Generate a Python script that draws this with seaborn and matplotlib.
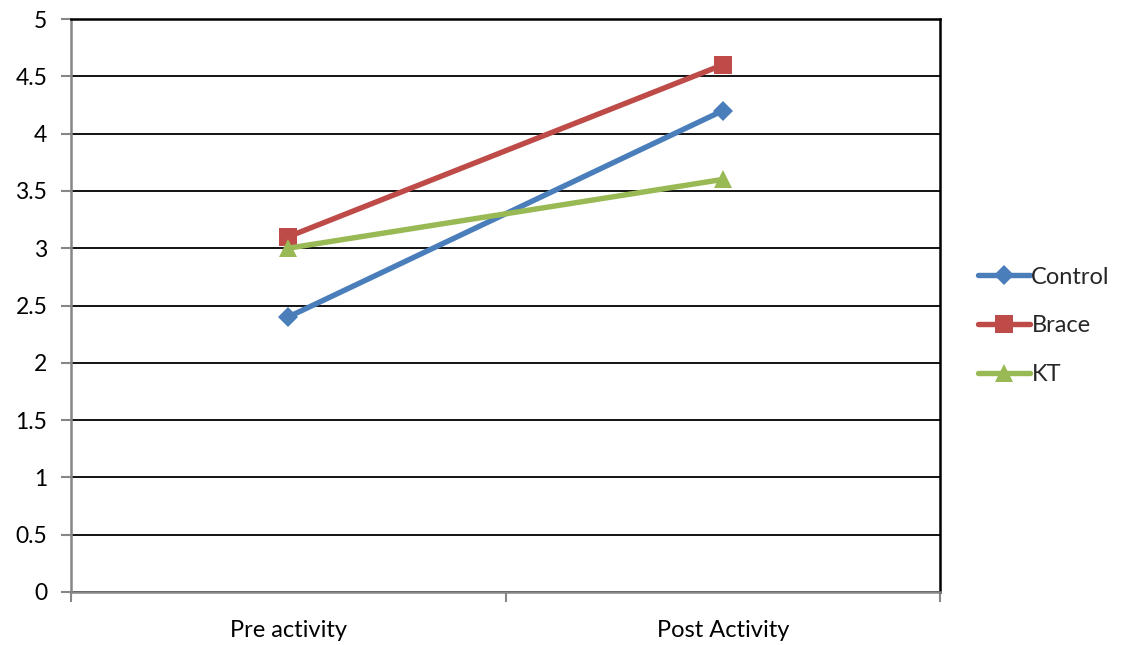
import matplotlib
matplotlib.use("Agg")
import matplotlib.pyplot as plt
import seaborn as sns
import pandas as pd
from matplotlib.ticker import FixedLocator

phases = ["Pre activity", "Post Activity"]
groups = ["Control", "Brace", "KT"]
control = [2.4, 4.2]
brace = [3.1, 4.6]
kt = [3.0, 3.6]
y_ticks = [0, 0.5, 1, 1.5, 2, 2.5, 3, 3.5, 4, 4.5, 5]
y_labels = ["0", "0.5", "1", "1.5", "2", "2.5", "3", "3.5", "4", "4.5", "5"]

df = pd.DataFrame({
    "phase": phases * 3,
    "group": [g for g in groups for _ in phases],
    "score": control + brace + kt,
})

sns.set_theme(style="white")
plt.rcParams["font.family"] = ["Lato", "DejaVu Sans"]

palette = {"Control": "#4A7EBB", "Brace": "#BE4B48", "KT": "#98B954"}
markers = {"Control": "D", "Brace": "s", "KT": "^"}
msizes = {"Control": 10, "Brace": 13.5, "KT": 13}
lw = 3.9

fig = plt.figure(figsize=(11.22, 6.45), dpi=100)
ax = fig.add_axes([71 / 1122, 53 / 645, 869 / 1122, 573 / 645])

sns.lineplot(data=df, x="phase", y="score", hue="group", style="group",
             palette=palette, markers=markers, dashes=False, linewidth=lw,
             markersize=11, markeredgewidth=0, ax=ax, sort=False, legend=False)
for line, g in zip(ax.lines, groups):
    line.set_markersize(msizes[g])

ax.set_xlim(-0.5, 1.5)
ax.set_ylim(0, 5)
ax.set_yticks(y_ticks)
ax.set_yticklabels(y_labels)
ax.grid(axis="y", color="black", linewidth=1.3)
ax.set_axisbelow(True)

ax.set_xticks([0, 1])
ax.set_xticklabels(phases)
ax.xaxis.set_minor_locator(FixedLocator([-0.5, 0.5, 1.5]))
ax.tick_params(axis="x", which="major", length=0, pad=20, labelsize=17, colors="black")
ax.tick_params(axis="x", which="minor", length=7, width=1.5, color="#878787", direction="out", bottom=True)
ax.tick_params(axis="y", length=7, width=1.5, color="#878787", direction="out", left=True,
               labelsize=16.5, pad=10, labelcolor="black")

ax.set_xlabel("")
ax.set_ylabel("")
for side in ["left", "bottom"]:
    ax.spines[side].set_color("#878787")
    ax.spines[side].set_linewidth(1.8)
for side in ["top", "right"]:
    ax.spines[side].set_color("black")
    ax.spines[side].set_linewidth(1.8)
    ax.spines[side].set_visible(True)

handles = [plt.Line2D([], [], color=palette[g], marker=markers[g], markersize=msizes[g],
                      markeredgewidth=0, linewidth=lw) for g in groups]
fig.legend(handles, groups, loc="center left", bbox_to_anchor=(957 / 1122, 0.495),
           frameon=False, fontsize=17, handlelength=2.2, handletextpad=0.05,
           labelspacing=1.17)

fig.savefig("out.png", dpi=100)
